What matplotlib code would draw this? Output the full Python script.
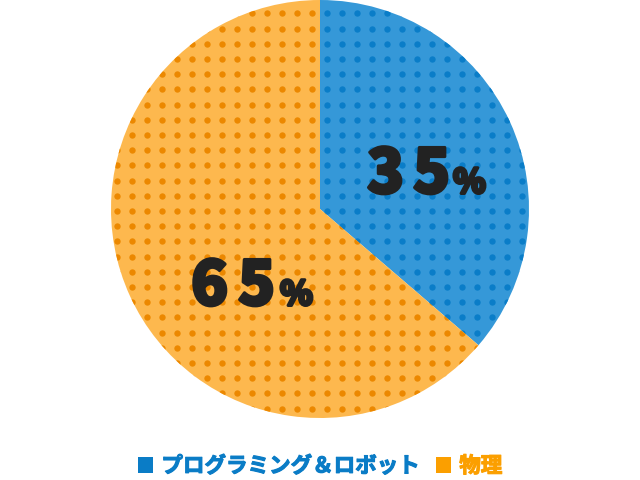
import matplotlib.pyplot as plt
import matplotlib.patheffects as pe
import numpy as np
from matplotlib.patches import Patch

plt.rcParams['font.family'] = ['Noto Sans CJK JP', 'DejaVu Sans']

# data
categories = ['プログラミング＆ロボット', '物理']
shares = [36.3, 63.7]          # slice sizes as drawn
label_numbers = ['35', '65']   # printed percentages

base_colors = ['#3598d8', '#fdb84e']
dot_colors = ['#0a7dc8', '#ec8800']
legend_colors = ['#0a7cc6', '#fb9f00']
text_color = '#222222'

H = 480
fig = plt.figure(figsize=(6.4, 4.8), dpi=100)
ax = fig.add_axes([0, 0, 1, 1])

wedges, _ = ax.pie(shares, colors=base_colors, startangle=90, counterclock=False,
                   radius=209, center=(320, H - 209),
                   wedgeprops=dict(linewidth=0))

# dotted texture inside each slice
gx = np.arange(11.7, 640, 15.0)
gy = H - np.arange(13.3, 480, 15.2)
X, Y = np.meshgrid(gx, gy)
for w, c in zip(wedges, dot_colors):
    sc = ax.scatter(X.ravel(), Y.ravel(), s=21, color=c, linewidths=0, zorder=3)
    sc.set_clip_path(w)

# percentage labels, drawn per character to mimic the wide spacing
thick = [pe.withStroke(linewidth=2.2, foreground=text_color)]
label_layout = [
    # (x of each digit, x of %, baseline y in pixels from top)
    ([367, 413], 453, 193),
    ([191, 238], 280, 305),
]
for num, (dx, px, base) in zip(label_numbers, label_layout):
    for ch, x in zip(num, dx):
        ax.text(x, H - base, ch, fontsize=44, fontweight='black', color=text_color,
                ha='left', va='baseline', zorder=5, path_effects=thick)
    ax.text(px, H - base, '%', fontsize=24, fontweight='black', color=text_color,
            ha='left', va='baseline', zorder=5, path_effects=thick)

ax.set_xlim(0, 640)
ax.set_ylim(0, H)
ax.set_aspect('equal')
ax.axis('off')

handles = [Patch(facecolor=c, edgecolor='none') for c in legend_colors]
leg = fig.legend(handles, categories, loc='center', bbox_to_anchor=(0.5, 1 - 466 / H),
                 ncol=2, frameon=False, handlelength=0.7, handleheight=0.7,
                 handletextpad=0.4, columnspacing=0.75,
                 prop=dict(size=15.5, weight='bold'))
for t, c in zip(leg.get_texts(), legend_colors):
    t.set_color(c)
    t.set_path_effects([pe.withStroke(linewidth=0.8, foreground=c)])

fig.savefig('out.png', dpi=100)
